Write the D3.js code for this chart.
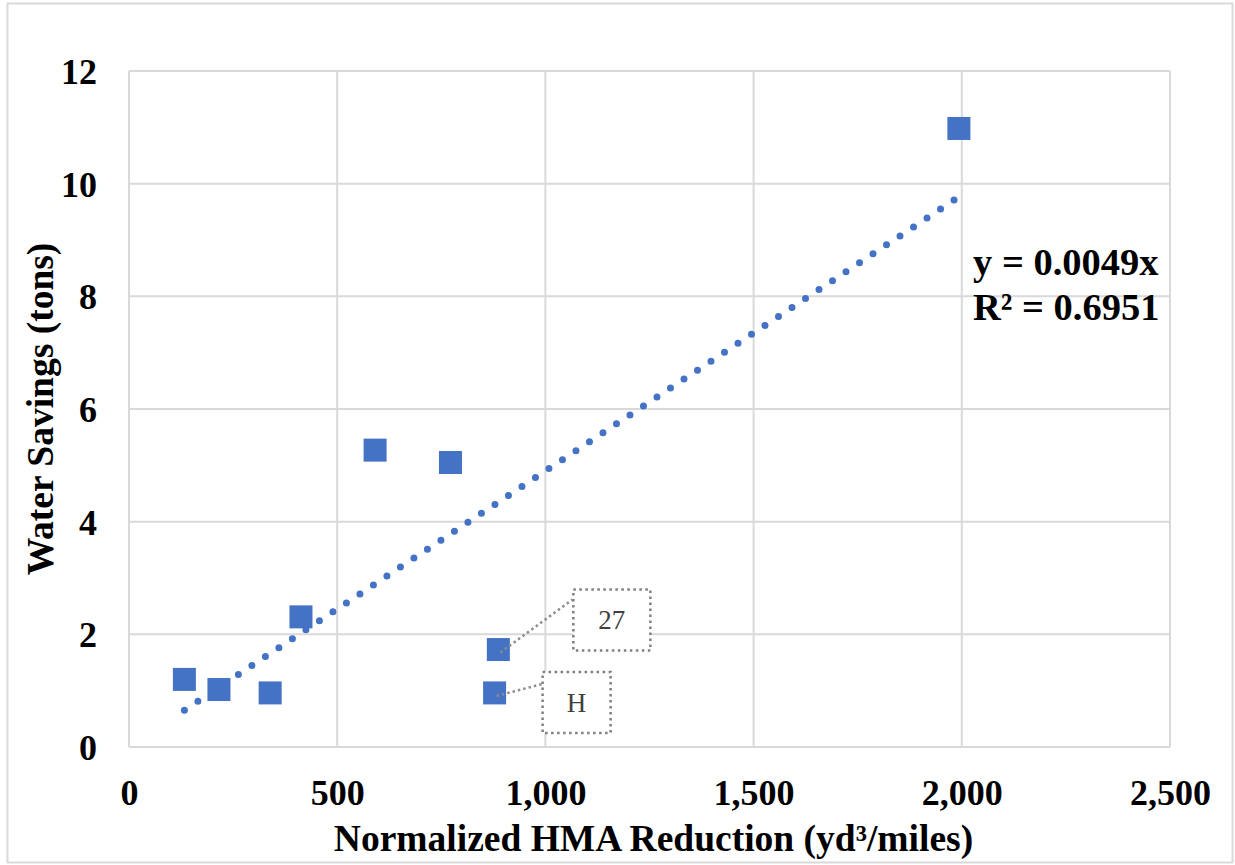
<!DOCTYPE html>
<html>
<head>
<meta charset="utf-8">
<script src="https://cdn.jsdelivr.net/npm/d3@7"></script>
<style>
  html, body { margin: 0; padding: 0; background: #fff; }
  svg { display: block; font-family: "Liberation Serif", "Times New Roman", serif; }
</style>
</head>
<body>
<svg id="chart" width="1235" height="865"></svg>
<script>

// Data
const hmaReduction = [133, 216, 339, 413, 591, 772, 887, 878, 1993];
const waterSavings = [1.20, 1.02, 0.96, 2.31, 5.27, 5.05, 1.73, 0.96, 10.98];
const pointLabels  = ["", "", "", "", "", "", "27", "H", ""];

const xTicks = [0, 500, 1000, 1500, 2000, 2500];
const yTicks = [0, 2, 4, 6, 8, 10, 12];

const trendSlope = 0.0049;
const trendR2 = 0.6951;

const xTitle = "Normalized HMA Reduction (yd\u00B3/miles)";
const yTitle = "Water Savings (tons)";

// Layout
const plot = {left: 129, top: 71, right: 1170, bottom: 747};
const blue = "#4472C4";
const grid = "#d9d9d9";

// Callout box placement relative to its point (px)
const callout = {
    "27": {dx: 75, dy: -60, w: 77, h: 61, lx: 74, ly: -50},
    "H":  {dx: 48, dy: -21, w: 68, h: 61, lx: 48, ly: -9}
};

const svg = d3.select("#chart");

// Outer chart border
svg.append("rect")
    .attr("x", 7.5).attr("y", 3.5)
    .attr("width", 1225).attr("height", 859)
    .attr("fill", "none")
    .attr("stroke", grid)
    .attr("stroke-width", 2);

const x = d3.scaleLinear().domain([0, 2500]).range([plot.left, plot.right]);
const y = d3.scaleLinear().domain([0, 12]).range([plot.bottom, plot.top]);

// Gridlines
svg.append("g")
    .selectAll("line")
    .data(xTicks)
    .join("line")
    .attr("x1", d => x(d)).attr("x2", d => x(d))
    .attr("y1", plot.top).attr("y2", plot.bottom)
    .attr("stroke", grid).attr("stroke-width", 2);
svg.append("g")
    .selectAll("line")
    .data(yTicks)
    .join("line")
    .attr("x1", plot.left).attr("x2", plot.right)
    .attr("y1", d => y(d)).attr("y2", d => y(d))
    .attr("stroke", grid).attr("stroke-width", 2);

// Axes (labels only)
const xAxis = svg.append("g")
    .attr("transform", `translate(0, ${plot.bottom})`)
    .call(d3.axisBottom(x).tickValues(xTicks).tickFormat(d3.format(",")).tickSize(0).tickPadding(0));
xAxis.select(".domain").remove();
xAxis.selectAll("text")
    .attr("y", 58).attr("dy", 0)
    .style("font-family", "Liberation Serif")
    .style("font-size", "36px")
    .style("font-weight", "bold")
    .attr("fill", "#000");

const yAxis = svg.append("g")
    .attr("transform", `translate(${plot.left}, 0)`)
    .call(d3.axisLeft(y).tickValues(yTicks).tickSize(0).tickPadding(32));
yAxis.select(".domain").remove();
yAxis.selectAll("text")
    .attr("dy", "0.35em")
    .style("font-family", "Liberation Serif")
    .style("font-size", "36px")
    .style("font-weight", "bold")
    .attr("fill", "#000");

// Axis titles
svg.append("text")
    .attr("x", (plot.left + plot.right) / 2 + 4)
    .attr("y", 851)
    .attr("text-anchor", "middle")
    .style("font-size", "37.5px")
    .style("font-weight", "bold")
    .text(xTitle);
svg.append("text")
    .attr("transform", `translate(53, ${(plot.top + plot.bottom) / 2}) rotate(-90)`)
    .attr("text-anchor", "middle")
    .style("font-size", "37.5px")
    .style("font-weight", "bold")
    .text(yTitle);

// Trendline (linear through origin), spanning the data range
const xExt = d3.extent(hmaReduction);
svg.append("path")
    .datum(xExt)
    .attr("d", d3.line().x(d => x(d)).y(d => y(trendSlope * d)))
    .attr("fill", "none")
    .attr("stroke", blue)
    .attr("stroke-width", 7)
    .attr("stroke-linecap", "round")
    .attr("stroke-dasharray", "0 16.2");

// Data points
const points = hmaReduction.map((v, i) => ({x: v, y: waterSavings[i], label: pointLabels[i]}));
const size = 23;
svg.append("g")
    .selectAll("rect")
    .data(points)
    .join("rect")
    .attr("x", d => x(d.x) - size / 2)
    .attr("y", d => y(d.y) - size / 2)
    .attr("width", size).attr("height", size)
    .attr("fill", blue);

// Callouts
const labelled = points.filter(d => d.label);
const cg = svg.append("g");
cg.selectAll("line")
    .data(labelled)
    .join("line")
    .attr("x1", d => x(d.x) + 2).attr("y1", d => y(d.y) + 3)
    .attr("x2", d => x(d.x) + callout[d.label].lx)
    .attr("y2", d => y(d.y) + callout[d.label].ly)
    .attr("stroke", "#8c8c8c")
    .attr("stroke-width", 2.5)
    .attr("stroke-dasharray", "2.5 3");
cg.selectAll("rect")
    .data(labelled)
    .join("rect")
    .attr("x", d => x(d.x) + callout[d.label].dx)
    .attr("y", d => y(d.y) + callout[d.label].dy)
    .attr("width", d => callout[d.label].w)
    .attr("height", d => callout[d.label].h)
    .attr("fill", "#fff")
    .attr("stroke", "#7f7f7f")
    .attr("stroke-width", 2.5)
    .attr("stroke-dasharray", "2.5 3.5");
cg.selectAll("text")
    .data(labelled)
    .join("text")
    .attr("x", d => x(d.x) + callout[d.label].dx + callout[d.label].w / 2)
    .attr("y", d => y(d.y) + callout[d.label].dy + callout[d.label].h / 2)
    .attr("dy", "0.35em")
    .attr("text-anchor", "middle")
    .attr("fill", "#404040")
    .style("font-size", "27px")
    .text(d => d.label);

// Trendline equation
const eq = svg.append("text")
    .attr("x", 973)
    .attr("y", 275)
    .style("font-size", "38.5px")
    .style("font-weight", "bold")
    .attr("fill", "#000");
eq.append("tspan").attr("x", 973).text(`y = ${trendSlope}x`);
eq.append("tspan").attr("x", 973).attr("y", 320).text(`R\u00B2 = ${trendR2}`);

</script>
</body>
</html>
